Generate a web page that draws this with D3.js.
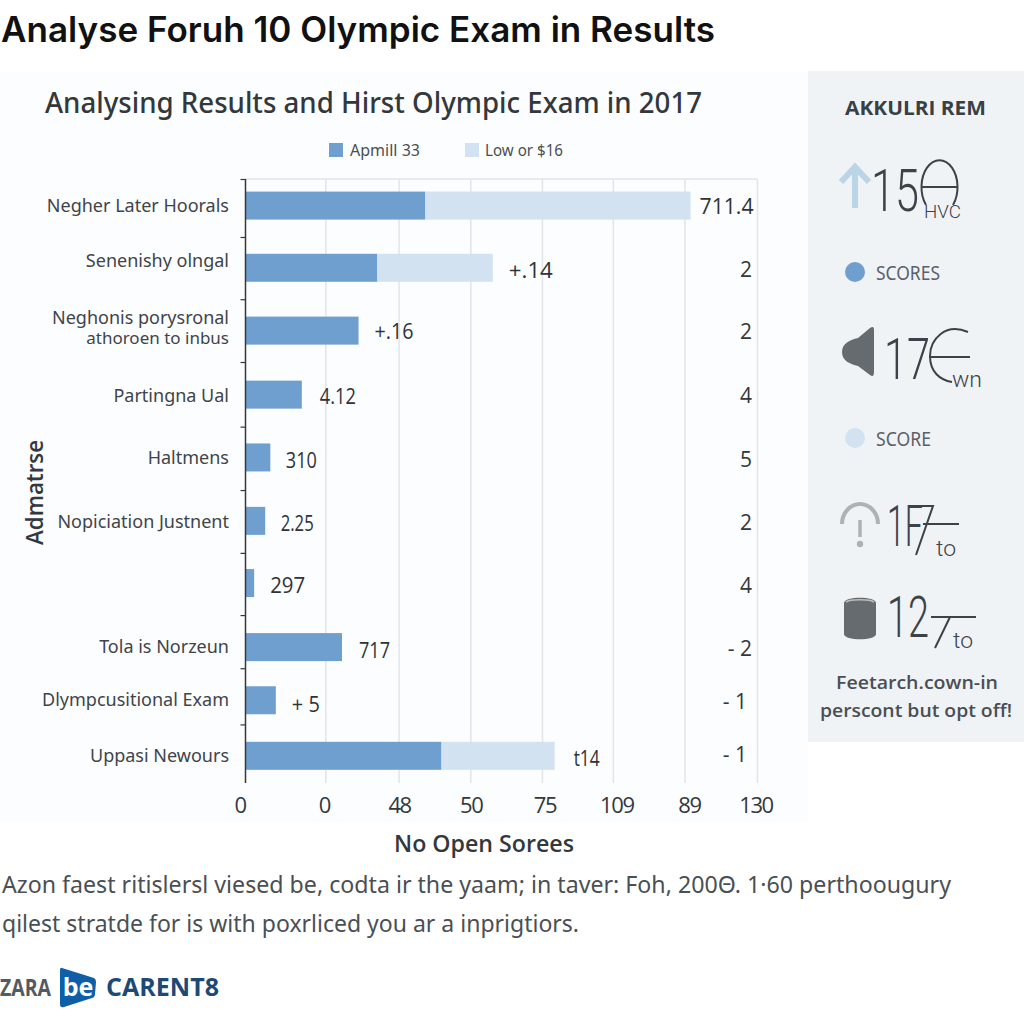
<!DOCTYPE html>
<html><head><meta charset="utf-8">
<script src="https://cdn.jsdelivr.net/npm/d3@7"></script>
<style>html,body{margin:0;padding:0;background:#fff}svg{display:block}text{font-family:"Open Sans",sans-serif}</style>
</head><body><div id="c"></div>
<script>
// ---- data ----
const categories = ["Negher Later Hoorals","Senenishy olngal",["Neghonis porysronal","athoroen to inbus"],"Partingna Ual","Haltmens","Nopiciation Justnent","","Tola is Norzeun","Dlympcusitional Exam","Uppasi Newours"];
const seriesDark = [45.6,33.4,28.7,14.3,6.3,5.0,2.2,24.5,7.7,49.7];
const seriesLight = [67.4,29.4,0,0,0,0,0,0,0,28.8];
const valueLabels = ["711.4","+.14","+.16","4.12","310","2.25","297","717","+ 5","t14"];
const sideValues = ["","2","2","4","5","2","4","- 2","- 1","- 1"];
const tickLabels = ["0","0","48","50","75","109","89","130"];
const tickSpots = [0,20.4,39,57.2,75.4,93.4,111.6,130];
const rowSpots = [0.44,1.47,2.51,3.57,4.61,5.66,6.69,7.75,8.63,9.55];
const rowTicks = [0,0.96,1.99,3.03,4.10,5.15,6.19,7.22,8.10,9.03];
const legendItems = ["Apmill 33","Low or $16"];

const W=1024,H=1024;
const svg=d3.select("#c").append("svg").attr("width",W).attr("height",H);
const INK="#33383d", DARK="#6f9fcf", LIGHT="#d3e2f0", GRID="#e2e5e8";
function T(x,y,s,o={}){
  const t=svg.append("text").attr("x",x).attr("y",y).text(s)
    .attr("font-size",o.size||18).attr("fill",o.fill||INK).attr("font-weight",o.weight||400)
    .attr("text-anchor",o.anchor||"start").style("font-family",o.font||'"Open Sans",sans-serif');
  if(o.w) t.attr("textLength",o.w).attr("lengthAdjust","spacingAndGlyphs");
  return t;
}
// backgrounds
svg.append("rect").attr("width",W).attr("height",H).attr("fill","#fff");
svg.append("rect").attr("x",0).attr("y",72).attr("width",808).attr("height",750).attr("fill","#fcfdfe");
svg.append("rect").attr("x",808).attr("y",71).attr("width",216).attr("height",671).attr("fill","#f0f3f6");

T(1,42,"Analyse Foruh 10 Olympic Exam in Results",{size:35,weight:600,fill:"#111",font:"Inter,sans-serif",w:714});
T(45,113,"Analysing Results and Hirst Olympic Exam in 2017",{size:29,weight:500,fill:"#33383d",font:'"Noto Sans",sans-serif',w:657});

// legend
[[329,DARK,350,70],[465,LIGHT,485,78]].forEach((l,i)=>{
  svg.append("rect").attr("x",l[0]).attr("y",143).attr("width",14).attr("height",14).attr("fill",l[1]);
  T(l[2],156,legendItems[i],{size:17,fill:"#4a4f55",font:'"Noto Sans",sans-serif',w:l[3]});
});

// scales
const x=d3.scaleLinear().domain([0,130]).range([245.5,757.5]);
const y=d3.scaleLinear().domain([0,10]).range([179,783]);
const barH=28;

// grid
svg.append("g").selectAll("line").data(tickSpots.slice(1)).join("line")
  .attr("x1",d=>x(d)).attr("x2",d=>x(d)).attr("y1",179).attr("y2",783)
  .attr("stroke",GRID).attr("stroke-width",1.5);
svg.append("line").attr("x1",245).attr("x2",757).attr("y1",179).attr("y2",179).attr("stroke",GRID).attr("stroke-width",1.5);

// bars
const bars=svg.append("g");
bars.selectAll("rect.l").data(seriesLight).join("rect").attr("class","l")
  .attr("x",(d,i)=>x(seriesDark[i])).attr("width",d=>x(d)-x(0))
  .attr("y",(d,i)=>y(rowSpots[i])-barH/2).attr("height",barH).attr("fill",LIGHT);
bars.selectAll("rect.d").data(seriesDark).join("rect").attr("class","d")
  .attr("x",x(0)).attr("width",d=>x(d)-x(0))
  .attr("y",(d,i)=>y(rowSpots[i])-barH/2).attr("height",barH).attr("fill",DARK);

// axes
const ax=svg.append("g").attr("transform","translate(0,800)").call(
  d3.axisBottom(x).tickValues(tickSpots).tickSize(0).tickPadding(0).tickFormat((d,i)=>tickLabels[i]));
ax.select(".domain").remove();
ax.selectAll("text").attr("font-size",22).attr("fill",INK).attr("dy","13").attr("dx",(d,i)=>[-6,-2,0,0,2,3,4,-2][i])
  .style("font-family",'"Open Sans",sans-serif').style("letter-spacing","-1.4px");
const ay=svg.append("g").attr("transform","translate(245.5,0)").call(
  d3.axisLeft(y).tickValues(rowTicks).tickSize(5).tickFormat(""));
ay.selectAll("line").attr("stroke",INK).attr("stroke-width",1.2);
ay.select(".domain").attr("stroke",INK).attr("stroke-width",1.5).attr("d","M0,179V783");

// category labels
const labelFont='"Noto Sans",sans-serif';
const rowBase=[6.5,-1,0,7,6.5,7,0,5.5,6,6];
categories.forEach((c,i)=>{
  if(!c) return;
  const yy=y(rowSpots[i])+rowBase[i];
  if(Array.isArray(c)){
    T(229,324,c[0],{size:18,anchor:"end",font:labelFont,fill:"#3f444a"});
    T(229,344,c[1],{size:17,anchor:"end",font:labelFont,fill:"#3f444a"});
  } else T(229,yy,c,{size:18,anchor:"end",font:labelFont,fill:"#3f444a"});
});

// value labels beside the bars
const vGap=[9,16,16,18,15.5,15.5,16,17,16,19];
const vBase=[8.5,10,8.5,9,10.5,10,9.5,10.5,12,10];
const vW=[54,44,39,36,31,33,35,31,28,26];
valueLabels.forEach((v,i)=>{
  T(x(seriesDark[i]+seriesLight[i])+vGap[i],y(rowSpots[i])+vBase[i],v,{size:21,w:vW[i],fill:"#2e3338"});
});
// right column
const sBase=[0,277,339,403,467,530,593,656,709,762];
sideValues.forEach((s,i)=>{ if(s) T(i>=8?747:752,sBase[i],s,{size:21,anchor:"end",fill:"#33383d"}); });

// axis titles
T(394,852,"No Open Sorees",{size:23,weight:600,fill:"#33383d",w:180});
svg.append("text").attr("transform","translate(43,545) rotate(-90)").text("Admatrse")
  .attr("font-size",24).attr("font-weight",600).attr("fill","#33383d").attr("textLength",105).attr("lengthAdjust","spacingAndGlyphs");

// footnote
T(2,893,"Azon faest ritislersl viesed be, codta ir the yaam; in taver: Foh, 200\u0398. 1\u00b760 perthoougury",{size:24,fill:"#4a4f55",w:949,font:labelFont});
T(2,932,"qilest stratde for is with poxrliced you ar a inprigtiors.",{size:24,fill:"#4a4f55",w:577,font:labelFont});

// logo
T(0,996,"ZARA",{size:24,weight:700,fill:"#555a60",w:51});
svg.append("path").attr("d","M62,968 L94,978 Q96,979 96,982 L95,994 Q95,997 92,998 L64,1007 Q60,1008 60,1004 L60,971 Q60,967 62,968Z").attr("fill","#0f5ea8");
T(78,996,"be",{size:25,weight:700,fill:"#fff",anchor:"middle"});
T(106,996,"CARENT8",{size:25,weight:700,fill:"#1d4a75",w:113});

// side panel
const thin="Roboto,sans-serif", gr="#3d4248", ig="#666b70";
T(845,115,"AKKULRI REM",{size:20,weight:700,fill:"#3a3f45",w:141});
function P(d,o={}){return svg.append("path").attr("d",d).attr("fill",o.fill||"none").attr("stroke",o.stroke||"none").attr("stroke-width",o.sw||1.6);}
// metric 1
P("M855,208V168M841,182L855,167L869,182",{stroke:"#b9d5e6",sw:6});
T(871,211,"15",{size:60,weight:300,font:thin,fill:gr,w:48});
P("M926,205A18,27 0 1 1 953,205",{stroke:gr,sw:2});
P("M921,187H958",{stroke:gr,sw:1.8});
T(924,218,"HVC",{size:19,weight:300,font:thin,fill:gr,w:37});
svg.append("circle").attr("cx",855).attr("cy",272).attr("r",10).attr("fill",DARK);
T(876,280,"SCORES",{size:19,font:labelFont,fill:"#5a6068",w:64});
// metric 2
P("M842,352C842,343 850,340 858,338L870,328Q874,325 874,330V372Q874,378 870,375L858,366C850,364 842,361 842,352Z",{fill:ig});
T(884,379,"17",{size:58,weight:300,font:thin,fill:gr,w:46});
P("M968,332C945,322 930,340 930,356C930,372 940,380 952,382",{stroke:gr,sw:2});
P("M929,357H970",{stroke:gr,sw:1.8});
T(952,387,"wn",{size:22,weight:300,font:thin,fill:gr,w:30});
svg.append("circle").attr("cx",855).attr("cy",438).attr("r",10).attr("fill",LIGHT);
T(876,446,"SCORE",{size:19,font:labelFont,fill:"#5a6068",w:55});
// metric 3
P("M842,524A18,20 0 0 1 878,524",{stroke:"#aeb2b5",sw:4});
P("M860,520V537",{stroke:"#aeb2b5",sw:3.5});
svg.append("circle").attr("cx",860).attr("cy",544).attr("r",3.2).attr("fill","#aeb2b5");
T(887,546,"1F",{size:58,weight:300,font:thin,fill:gr,w:36});
P("M914,506H933L916,555M923,524H959",{stroke:gr,sw:2});
T(936,556,"to",{size:22,weight:300,font:thin,fill:gr,w:20});
// metric 4
P("M844,603C844,596 876,596 876,603V634C876,641 844,641 844,634Z",{fill:ig});
P("M846,602C850,599 870,599 874,602",{stroke:"#b9bdc0",sw:1.6});
T(887,637,"12",{size:58,weight:300,font:thin,fill:gr,w:42});
P("M931,617H976M950,617L935,648",{stroke:gr,sw:2});
T(953,648,"to",{size:22,weight:300,font:thin,fill:gr,w:20});
T(836,689,"Feetarch.cown-in",{size:18,weight:600,fill:"#4a4f55",w:162});
T(820,717,"perscont but opt off!",{size:18,weight:600,fill:"#4a4f55",w:192});
</script></body></html>
